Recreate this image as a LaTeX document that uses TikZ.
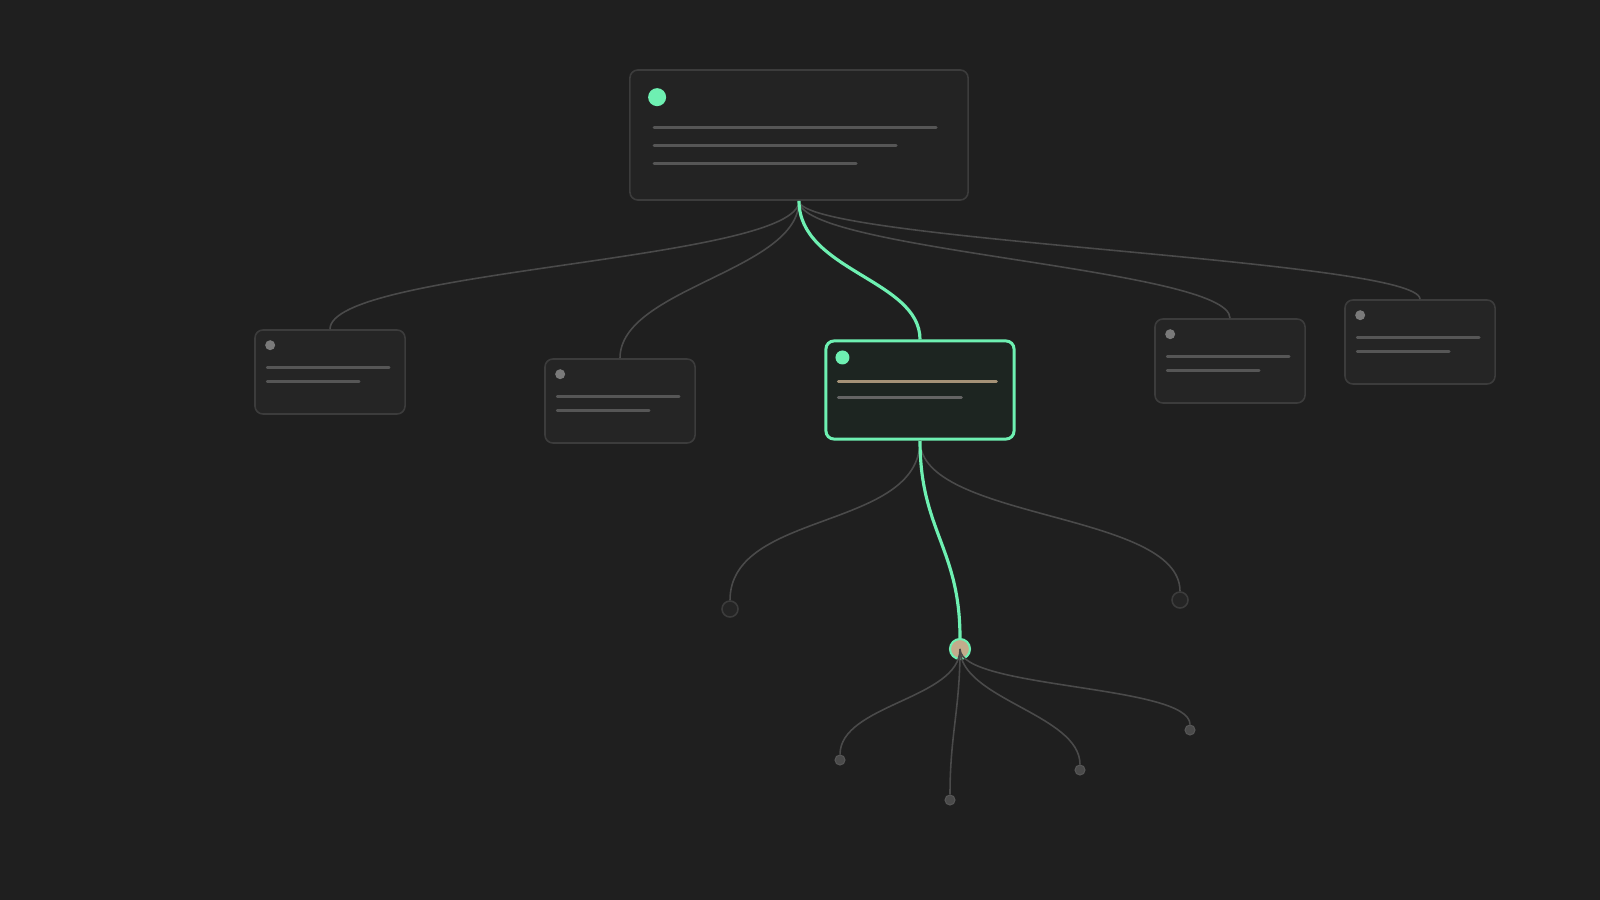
\documentclass[tikz,border=0pt]{standalone}
\usepackage{xcolor}
\usepackage{tikz}
\usetikzlibrary{calc, positioning}

\definecolor{bgcol}{RGB}{31,31,31}
\definecolor{cardfill}{RGB}{37,37,37}
\definecolor{cardline}{RGB}{60,60,60}
\definecolor{topfill}{RGB}{35,35,35}
\definecolor{mint}{RGB}{110,240,178}
\definecolor{livefill}{RGB}{29,37,33}
\definecolor{tan}{RGB}{194,172,140}
\definecolor{wiregrey}{RGB}{74,74,74}
\definecolor{barcol}{RGB}{86,86,86}
\definecolor{midbar}{RGB}{100,100,100}
\definecolor{dotgrey}{RGB}{122,122,122}

\begin{document}
\begin{tikzpicture}[x=0.01cm, y=-0.01cm,
        card/.style={draw=cardline, fill=cardfill, line width=0.45pt, rounded corners=0.08cm,
            minimum width=1.5cm, minimum height=0.84cm, inner sep=0pt},
        wire/.style={wiregrey, line width=0.45pt},
        live/.style={mint, line width=0.9pt},
        bar/.style={barcol, line width=0.85pt, line cap=round},
        bigleaf/.style={circle, draw=cardline, fill=cardfill, line width=0.45pt, minimum size=0.16cm, inner sep=0pt},
        smallleaf/.style={circle, draw=barcol, fill=wiregrey, line width=0.3pt, minimum size=0.1cm, inner sep=0pt}]
            \fill[bgcol] (0,0) rectangle (1600,900);
            \useasboundingbox (0,0) rectangle (1600,900);

            \node[card, fill=topfill, minimum width=3.38cm, minimum height=1.3cm] (root) at (799,135) {};
            \fill[mint] ($(root.north west)+(28,28)$) circle (0.09cm);
            \draw[bar] ($(root.north west)+(25,58)$) -- ++(282,0);
            \draw[bar] ($(root.north west)+(25,76)$) -- ++(242,0);
            \draw[bar] ($(root.north west)+(25,94)$) -- ++(202,0);

            \node[card] (c1) at (330,372) {};
            \node[card] (c2) at (620,401) {};
            \node[card] (c4) at (1230,361) {};
            \node[card] (c5) at (1420,342) {};
            \foreach \c in {c1, c2, c4, c5} {
                \fill[dotgrey] ($(\c.north west)+(16,16)$) circle (0.05cm);
                \draw[bar, line width=0.75pt] ($(\c.north west)+(13,38)$) -- ++(122,0);
                \draw[bar, line width=0.75pt] ($(\c.north west)+(13,52)$) -- ++(92,0);
            }

            \node[card, draw=mint, fill=livefill, line width=0.85pt, minimum width=1.88cm, minimum height=0.98cm] (mid) at (920,390) {};
            \fill[mint] ($(mid.north west)+(18,18)$) circle (0.07cm);
            \draw[bar, tan!85!black, line width=0.85pt] ($(mid.north west)+(14,42)$) -- ++(158,0);
            \draw[bar, midbar, line width=0.85pt] ($(mid.north west)+(14,58)$) -- ++(123,0);

            \node[bigleaf] (l1) at (730,609) {};
            \node[bigleaf] (l2) at (1180,600) {};
            \node[circle, draw=mint, fill=tan, line width=0.6pt, minimum size=0.2cm, inner sep=0pt] (hub) at (960,649) {};
            \node[smallleaf] (s1) at (840,760) {};
            \node[smallleaf] (s2) at (950,800) {};
            \node[smallleaf] (s3) at (1080,770) {};
            \node[smallleaf] (s4) at (1190,730) {};

            \draw[wire] (root.south) .. controls +(0,60) and +(0,-60) .. (c1.north);
            \draw[wire] (root.south) .. controls +(0,70) and +(0,-70) .. (c2.north);
            \draw[wire] (root.south) .. controls +(0,50) and +(0,-50) .. (c4.north);
            \draw[wire] (root.south) .. controls +(0,40) and +(0,-40) .. (c5.north);
            \draw[live] (root.south) .. controls +(0,70) and +(0,-60) .. (mid.north);

            \draw[wire] (mid.south) .. controls +(0,90) and +(0,-90) .. (l1.north);
            \draw[wire] (mid.south) .. controls +(0,80) and +(0,-80) .. (l2.north);
            \draw[live] (mid.south) .. controls +(0,90) and +(0,-90) .. (hub.north);

            \draw[wire] (hub.center) .. controls +(0,50) and +(0,-50) .. (s1.north);
            \draw[wire] (hub.center) .. controls +(0,60) and +(0,-60) .. (s2.north);
            \draw[wire] (hub.center) .. controls +(0,50) and +(0,-50) .. (s3.north);
            \draw[wire] (hub.center) .. controls +(0,40) and +(0,-40) .. (s4.north);
        \end{tikzpicture}
\end{document}
